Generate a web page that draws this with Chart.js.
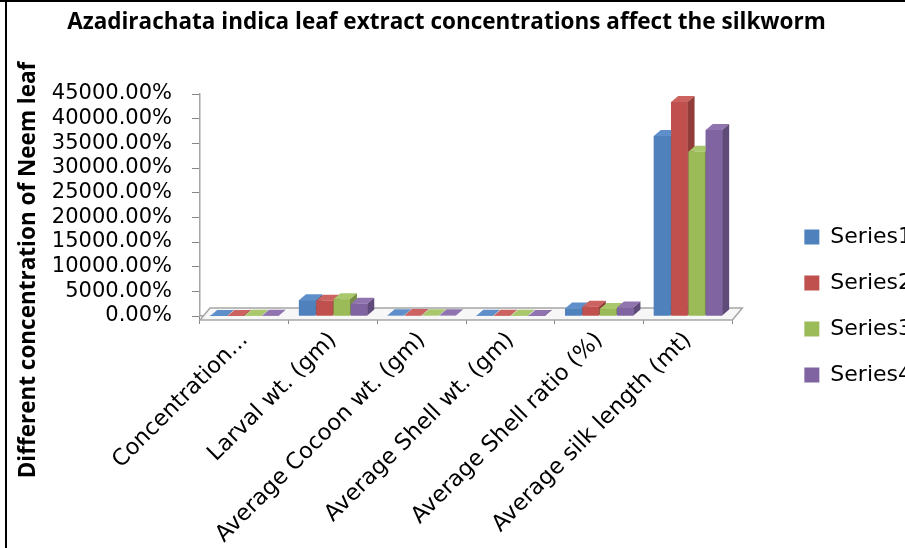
<!DOCTYPE html>
<html>
<head>
<meta charset="utf-8">
<script src="https://cdn.jsdelivr.net/npm/chart.js@4.4.0/dist/chart.umd.min.js"></script>
<style>
  html, body { margin: 0; padding: 0; overflow: hidden; background: #fff; }
  #wrap { position: relative; width: 935px; height: 546px; border-top: 2px solid #000; background: #fff; }
  #edge { position: absolute; left: 5px; top: 0; width: 2px; height: 548px; background: #000; z-index: 2; }
</style>
</head>
<body>
<div id="edge"></div>
<div id="wrap"><canvas id="chart"></canvas></div>
<script>
// categories and series (values in %)
const categories = ['Concentration...', 'Larval wt. (gm)', 'Average Cocoon wt. (gm)', 'Average Shell wt. (gm)', 'Average Shell ratio (%)', 'Average silk length (mt)'];
const series1 = [10, 3200, 170, 30, 1500, 36500];
const series2 = [20, 3100, 180, 35, 1900, 43400];
const series3 = [30, 3400, 160, 28, 1400, 33300];
const series4 = [40, 2500, 150, 25, 1700, 37700];
const seriesNames = ['Series1', 'Series2', 'Series3', 'Series4'];
const yTicks = [0, 5000, 10000, 15000, 20000, 25000, 30000, 35000, 40000, 45000];

const colors = ['#4F81BD', '#C0504D', '#9BBB59', '#8064A2'];
const sideColors = ['#3A6292', '#923C3A', '#748D42', '#5F4A7A'];
const topColors = ['#5F8FCB', '#CC6360', '#A9C76B', '#8F74B0'];

const DX = 7, DY = -6;

// floor + 3D faces of the bars
const depthPlugin = {
  id: 'depth',
  beforeDatasetsDraw(chart) {
    const ctx = chart.ctx;
    const y0 = chart.scales.y.getPixelForValue(0);
    const l = chart.chartArea.left, r = chart.chartArea.right;
    ctx.save();
    ctx.fillStyle = '#f7f7f7';
    ctx.strokeStyle = '#a6a6a6';
    ctx.lineWidth = 1.5;
    ctx.beginPath();
    ctx.moveTo(l, y0 + 4);
    ctx.lineTo(r, y0 + 4);
    ctx.lineTo(r + DX + 3, y0 + DY - 2);
    ctx.lineTo(l + DX + 3, y0 + DY - 2);
    ctx.closePath();
    ctx.fill();
    ctx.stroke();
    ctx.restore();
  },
  afterDatasetsDraw(chart) {
    const ctx = chart.ctx;
    ctx.save();
    for (let c = 0; c < categories.length; c++) {
      for (let d = 0; d < chart.data.datasets.length; d++) {
        const bar = chart.getDatasetMeta(d).data[c];
        const half = bar.width / 2;
        const x1 = bar.x - half, x2 = bar.x + half;
        const yt = bar.y, yb = bar.base;
        ctx.fillStyle = colors[d];
        ctx.fillRect(x1, yt, x2 - x1, yb - yt);
        // top
        ctx.fillStyle = topColors[d];
        ctx.beginPath();
        ctx.moveTo(x1, yt);
        ctx.lineTo(x2, yt);
        ctx.lineTo(x2 + DX, yt + DY);
        ctx.lineTo(x1 + DX, yt + DY);
        ctx.closePath();
        ctx.fill();
        // side
        ctx.fillStyle = sideColors[d];
        ctx.beginPath();
        ctx.moveTo(x2, yt);
        ctx.lineTo(x2 + DX, yt + DY);
        ctx.lineTo(x2 + DX, yb + DY);
        ctx.lineTo(x2, yb);
        ctx.closePath();
        ctx.fill();
      }
    }
    ctx.restore();
  }
};

// legend sits further from the plot than chart.js puts it, title a bit left of centre
const LEGEND_EXTRA = 61, LEGEND_SHIFT_X = 48, LEGEND_SHIFT_Y = 31, TITLE_SHIFT_X = -21;
const shiftBlock = (box, dx, dy) => {
  const draw = box.draw.bind(box);
  box.draw = function () {
    const ctx = this.ctx;
    ctx.save();
    ctx.translate(dx, dy);
    draw();
    ctx.restore();
  };
};
const layoutPatchPlugin = {
  id: 'layoutPatch',
  beforeLayout(chart) {
    const lg = chart.legend;
    if (lg && !lg._patched) {
      const fit = lg.fit.bind(lg);
      lg.fit = function () { fit(); this.width += LEGEND_EXTRA; };
      shiftBlock(lg, LEGEND_SHIFT_X, LEGEND_SHIFT_Y);
      lg._patched = true;
    }
    const tb = chart.titleBlock;
    if (tb && !tb._patched) {
      shiftBlock(tb, TITLE_SHIFT_X, 0);
      tb._patched = true;
    }
  }
};

// y axis title, centred on the whole chart height like the original
const yTitlePlugin = {
  id: 'yTitle',
  afterDraw(chart) {
    const ctx = chart.ctx;
    ctx.save();
    ctx.translate(29, 268);
    ctx.rotate(-Math.PI / 2);
    ctx.font = 'bold 22.5px "Open Sans"';
    ctx.fillStyle = '#000';
    ctx.textAlign = 'center';
    ctx.textBaseline = 'middle';
    ctx.fillText('Different concentration of Neem leaf', 0, 0);
    ctx.restore();
  }
};

const datasets = [series1, series2, series3, series4].map((s, i) => ({
  label: seriesNames[i],
  data: s,
  backgroundColor: colors[i],
  borderWidth: 0,
  categoryPercentage: 0.78,
  barPercentage: 0.95
}));

new Chart(document.getElementById('chart'), {
  type: 'bar',
  data: { labels: categories, datasets: datasets },
  plugins: [layoutPatchPlugin, depthPlugin, yTitlePlugin],
  options: {
    responsive: true,
    maintainAspectRatio: false,
    animation: false,
    layout: { padding: 0 },
    plugins: {
      title: {
        display: true,
        text: 'Azadirachata indica leaf extract concentrations affect the silkworm',
        color: '#000',
        font: { family: 'Open Sans', size: 22.5, weight: 'bold' },
        padding: { top: 7, bottom: 58 }
      },
      legend: {
        position: 'right',
        labels: {
          color: '#000',
          font: { family: 'DejaVu Sans', size: 22 },
          boxWidth: 15,
          boxHeight: 15,
          padding: 24
        }
      },
      tooltip: { enabled: false }
    },
    scales: {
      x: {
        grid: { display: true, drawOnChartArea: false, color: '#868686', tickLength: 8, offset: true },
        border: { color: '#a6a6a6', width: 1.5 },
        ticks: {
          color: '#000',
          font: { family: 'DejaVu Sans', size: 22.5 },
          maxRotation: 45,
          minRotation: 45,
          autoSkip: false
        },
        afterFit(scale) { scale.height = 232; }
      },
      y: {
        min: 0,
        max: 45000,
        afterBuildTicks(scale) { scale.ticks = yTicks.map(v => ({ value: v })); },
        grid: { display: true, drawOnChartArea: false, color: '#868686', tickLength: 8 },
        border: { color: '#a6a6a6', width: 1.5 },
        ticks: {
          color: '#000',
          font: { family: 'DejaVu Sans', size: 21, lineHeight: 1 },
          padding: 20,
          autoSkip: false,
          callback: v => v.toFixed(2) + '%'
        },
        afterFit(scale) { scale.width = 200; }
      }
    }
  }
});
</script>
</body>
</html>
